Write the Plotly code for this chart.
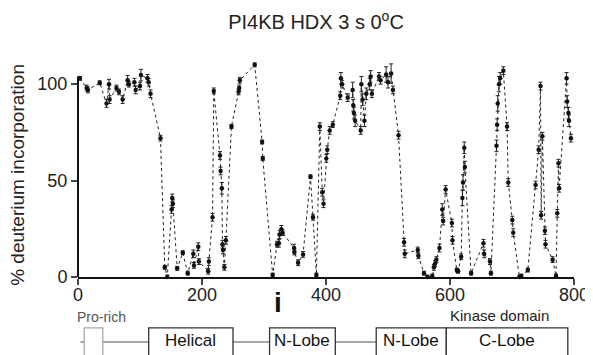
import plotly.graph_objects as go

# ---------------- data ----------------
residue = [3, 14, 16, 35, 46, 50, 51, 62, 66, 72, 80, 82, 91, 93, 100, 101.5, 112, 114, 117,
           133, 140, 144, 151, 152, 153, 160, 169, 177, 186, 187, 194, 195, 210, 211, 217, 219,
           229, 230, 232, 233, 234, 236, 238.5, 247.5, 259, 260, 261, 285, 297, 298, 314,
           321, 324, 325, 328, 330, 348.5, 349, 355, 363, 375, 379, 384.5, 390, 394, 396,
           400.5, 402, 406, 411, 423, 424, 426, 435, 443, 444, 445, 447, 456, 457, 459, 462,
           465, 470.5, 472, 474, 485.5, 488, 497, 500, 505, 508, 517, 526, 527, 548, 549,
           558, 563.5, 571.5, 574, 576, 578, 583, 587.5, 589, 593, 603, 604, 611, 613, 618,
           620, 621, 623, 624, 634, 654, 655, 664.5, 666, 675, 676, 677, 679, 681, 686,
           692, 694, 700.5, 702, 712, 715, 725.5, 738, 743, 746, 747, 749, 753, 754, 765.5,
           771, 773, 775, 776, 788, 789, 791, 792, 795]
deuterium = [103, 98, 97, 100.7, 90, 100, 92, 98, 96, 92, 102, 100, 101, 97, 99, 104.7, 103, 101, 95,
             72, 5, 0, 35, 41, 38, 4.5, 12.6, 2, 12, 6, 15.7, 8, 3, 8, 31, 96.5,
             63, 55, 46, 17, 14, 5, 19, 78, 96, 98, 102, 110, 70, 61.5, 1,
             17, 17.5, 22, 24.7, 23, 15, 13, 7.4, 11.7, 52, 31, 1, 78, 44, 38,
             61.5, 66, 76, 79, 94, 103, 100, 93, 97, 89, 85, 81, 76, 100, 92, 81,
             95, 100, 104, 95, 104, 102, 105, 101, 105.5, 97, 73.5, 18, 12, 14, 11,
             2, 0, 0.5, 5, 7, 9, 15, 35, 29, 45.4, 28, 19, 3.6, 3, 10.5,
             41, 49, 67, 57, 2, 17.5, 12, 8, 2, 68, 79, 90, 100, 103, 107,
             78, 49, 29.5, 23, 0, 0.5, 3.6, 47.7, 66, 99, 32, 73, 24, 17, 9,
             0.5, 33, 59, 46, 103, 91, 85, 81, 72]
error = [1, 1.5, 1.5, 1, 2, 2.5, 2, 1.5, 1.5, 2, 2.5, 1.5, 2, 2, 2, 3, 2, 2, 2,
         1.5, 1, 1, 2, 2, 2, 1, 1, 1, 2, 1.5, 2, 1.5, 1.5, 2, 2, 1.5,
         2, 2, 3, 2, 2, 1.5, 2, 1, 1.5, 1.5, 1.5, 1, 1, 1, 1,
         1.5, 2, 2, 2, 1.5, 2, 1.5, 1.5, 1.5, 1, 1.5, 1, 2, 2, 2,
         2, 2, 2, 1.5, 2, 3, 2, 2, 4, 3, 3, 3, 2, 4, 3, 3,
         3, 3, 3, 2, 2, 2, 4, 3, 5, 2, 2, 2, 2, 1.5, 1.5,
         1, 1, 1, 1.5, 1.5, 1.5, 2, 3, 2, 2, 2, 2, 1, 1, 1.5,
         4, 4, 3, 3, 1, 2, 2, 1.5, 1, 3, 3, 4, 4, 3, 2,
         2, 2, 2, 2, 1, 1, 1, 2, 2, 2, 2, 2, 2, 2, 1.5,
         1, 2, 2, 2, 3, 3, 3, 3, 2]

x_ticks = [0, 200, 400, 600, 800]
y_ticks = [0, 50, 100]
y_axis_top = 104

domain_names = ["Pro-rich", "Helical", "N-Lobe", "N-Lobe", "C-Lobe"]
domain_start = [10, 114, 309, 481, 594]
domain_end = [40, 250, 415, 594, 790]
backbone = [4, 481]
prorich_label_pos = 38
kinase_label_pos = 680
marker_i_pos = 323

# ---------------- layout geometry ----------------
# page is rendered with an 8 px body margin; positions below are page pixels
OFF = 8
W, H = 593, 355
PLOT_LEFT, PLOT_RIGHT, PLOT_BOTTOM = 78, 580, 277
Y_RANGE = [0, 112]
PX_PER_UNIT = 1.93
plot_h = (Y_RANGE[1] - Y_RANGE[0]) * PX_PER_UNIT
ML = PLOT_LEFT - OFF
MR = W - (PLOT_RIGHT - OFF)
MB = H - (PLOT_BOTTOM - OFF)
MT = H - MB - plot_h


def py(pix):
    """page pixel row -> paper y"""
    return (PLOT_BOTTOM - pix) / plot_h


def px(pix):
    """page pixel column -> paper x"""
    return (pix - PLOT_LEFT) / (PLOT_RIGHT - PLOT_LEFT)


FONT = "Liberation Sans, Arial, sans-serif"

fig = go.Figure()
fig.add_trace(go.Scatter(
    x=residue, y=deuterium, mode="lines+markers",
    line=dict(color="#222", width=1, dash="dot"),
    marker=dict(color="#111", size=4.5, symbol="circle"),
    error_y=dict(type="data", array=error, visible=True, color="#222", thickness=1, width=2),
    cliponaxis=False, showlegend=False,
))

shapes = []
# y-axis line (stops at 104 like the reference)
shapes.append(dict(type="line", xref="paper", yref="y", x0=0, x1=0, y0=0, y1=y_axis_top,
                   line=dict(color="#111", width=2)))
# backbone line
shapes.append(dict(type="line", xref="x", yref="paper", x0=backbone[0], x1=backbone[1],
                   y0=py(342), y1=py(342), line=dict(color="#8a8a8a", width=1.5), layer="below"))
annotations = []
for name, s, e in zip(domain_names, domain_start, domain_end):
    light = name == "Pro-rich"
    shapes.append(dict(type="rect", xref="x", yref="paper", x0=s, x1=e,
                       y0=py(328), y1=py(366), fillcolor="white",
                       line=dict(color="#aaaaaa" if light else "#333", width=1.3)))
    if not light:
        annotations.append(dict(x=(s + e) / 2, y=py(341), xref="x", yref="paper", text=name,
                                showarrow=False, font=dict(family=FONT, size=17, color="#111"),
                                xanchor="center", yanchor="middle"))
annotations.append(dict(x=prorich_label_pos, y=py(317), xref="x", yref="paper",
                        text="Pro-rich", showarrow=False,
                        font=dict(family=FONT, size=14, color="#555"),
                        xanchor="center", yanchor="middle"))
annotations.append(dict(x=kinase_label_pos, y=py(316), xref="x", yref="paper",
                        text="Kinase domain", showarrow=False,
                        font=dict(family=FONT, size=15, color="#222"),
                        xanchor="center", yanchor="middle"))
annotations.append(dict(x=marker_i_pos, y=py(303), xref="x", yref="paper",
                        text="<b>i</b>", showarrow=False,
                        font=dict(family=FONT, size=28, color="#111"),
                        xanchor="center", yanchor="middle"))
annotations.append(dict(x=px(16), y=py(175), xref="paper", yref="paper",
                        text="% deuterium incorporation", textangle=-90, showarrow=False,
                        font=dict(family=FONT, size=19, color="#222"),
                        xanchor="center", yanchor="middle"))

fig.update_layout(
    width=W, height=H,
    margin=dict(l=ML, r=MR, t=MT, b=MB, pad=0),
    paper_bgcolor="white", plot_bgcolor="white",
    title=dict(text="PI4KB HDX 3 s 0<sup>o</sup>C", x=(316 - OFF) / W, xanchor="center",
               y=1 - (22 - OFF) / H, yanchor="middle",
               font=dict(family=FONT, size=20, color="#222")),
    xaxis=dict(range=[0, 800], tickvals=x_ticks, ticks="outside", ticklen=6, tickwidth=2,
               ticklabelstandoff=-6,
               showline=True, linecolor="#111", linewidth=2, showgrid=False, zeroline=False,
               tickfont=dict(family=FONT, size=18, color="#222")),
    yaxis=dict(range=Y_RANGE, tickvals=y_ticks, ticks="outside", ticklen=6, tickwidth=2,
               showline=False, showgrid=False, zeroline=False,
               tickfont=dict(family=FONT, size=18, color="#222")),
    shapes=shapes, annotations=annotations,
)

fig.write_html("out.html")
